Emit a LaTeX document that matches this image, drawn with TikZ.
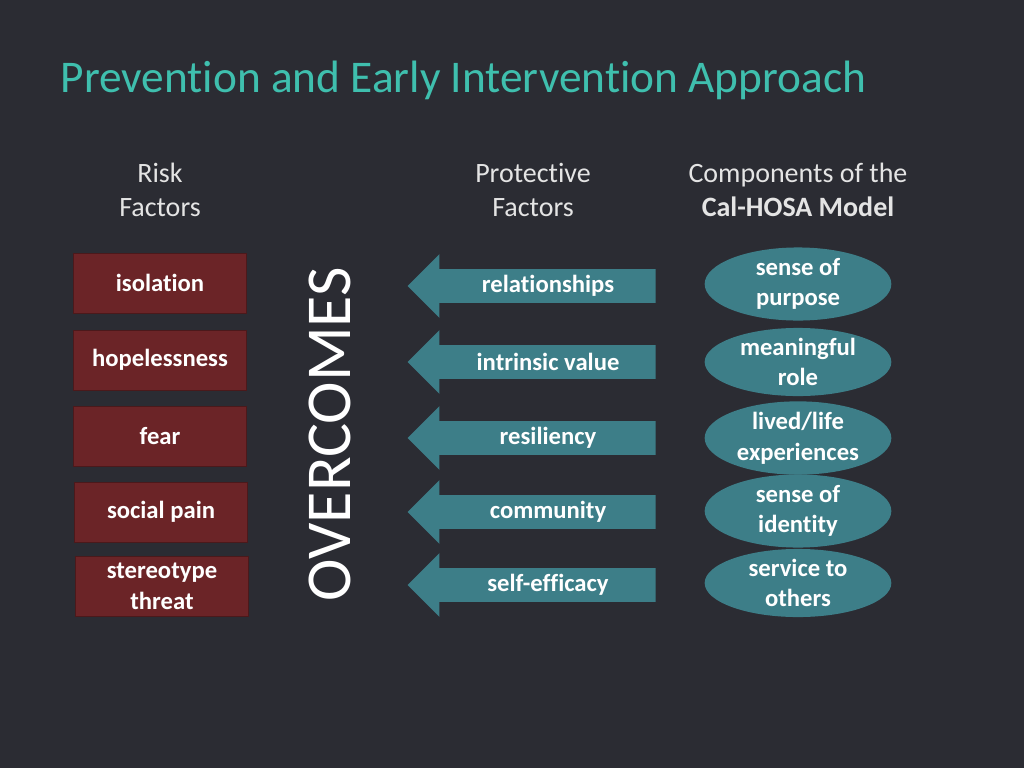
\documentclass[tikz,border=0pt]{standalone}
\usepackage{fontspec}
\setmainfont{Carlito}[Ligatures = NoCommon]
\usetikzlibrary{shapes.arrows,shapes.geometric}
\definecolor{bgdark}{HTML}{2B2C33}
\definecolor{riskred}{HTML}{6B2427}
\definecolor{tealbox}{HTML}{3D7E88}
\definecolor{titleteal}{HTML}{3FBFAE}
\definecolor{headgray}{HTML}{E4E4E4}
\tikzset{
  riskbox/.style = {draw = riskred!70!black, fill = riskred, minimum width = 130pt, minimum height = 45pt,
    text = white, font = \fontsize{18.5}{23}\selectfont\bfseries, align = center, inner sep = 0pt},
  protarrow/.style = {single arrow, shape border rotate = 180, fill = tealbox, inner ysep = 12.4pt, inner xsep = 0pt,
    minimum height = 186pt, minimum width = 47pt, single arrow head extend = 11.25pt},
  arrowtext/.style = {text = white, font = \fontsize{18.5}{23}\selectfont\bfseries},
  component/.style = {ellipse, fill = tealbox, minimum width = 140pt, minimum height = 45pt, inner sep = 0pt,
    text = white, font = \fontsize{18.5}{23}\selectfont\bfseries, align = center},
  header/.style = {text = headgray, font = \fontsize{21}{26}\selectfont, align = center}
}
\begin{document}
\begin{tikzpicture}[x = 0.75pt, y = -0.75pt]
  \fill[bgdark] (0,0) rectangle (1024,768);
  \useasboundingbox (0,0) rectangle (1024,768);

  \node[anchor = west, text = titleteal, font = \fontsize{34}{40}\selectfont] (title) at (56,80) {Prevention and Early Intervention Approach};

  \node[header] (riskhead) at (160,190) {Risk\\Factors};
  \node[header] (prothead) at (533,190) {Protective\\Factors};
  \node[header] (comphead) at (798,190) {Components of the\\\textbf{Cal-HOSA Model}};

  \node[riskbox] (isolation) at (160,283) {isolation};
  \node[riskbox] (hopeless) at (160,360) {hopelessness};
  \node[riskbox] (fear) at (160,436) {fear};
  \node[riskbox] (socialpain) at (161,512) {social pain};
  \node[riskbox] (stereotype) at (162,586) {stereotype\\threat};

  \node[rotate = 90, text = white, font = \fontsize{48}{56}\selectfont] (overcomes) at (330,434) {OVERCOMES};

  \foreach \y/\name/\txt in {286/relat/relationships, 362/intrinsic/intrinsic value, 438/resil/resiliency,
      512/commun/community, 585/selfeff/self-efficacy}
    \node[protarrow, label = {[arrowtext, xshift = 6pt]center:\txt}] (\name) at (540,\y) {};

  \node[component] (purpose) at (798,284) {sense of\\purpose};
  \node[component] (role) at (798,362) {meaningful\\role};
  \node[component] (lived) at (798,438) {lived/life\\experiences};
  \node[component] (identity) at (798,511) {sense of\\identity};
  \node[component] (service) at (798,583) {service to\\others};
\end{tikzpicture}
\end{document}
